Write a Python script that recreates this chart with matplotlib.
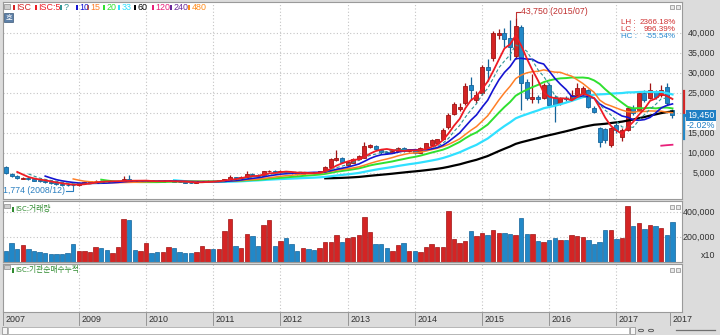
import numpy as np
import pandas as pd
import matplotlib
matplotlib.use("Agg")
import matplotlib.pyplot as plt
from matplotlib.patches import Rectangle, Circle
from matplotlib.lines import Line2D
from matplotlib.transforms import blended_transform_factory, ScaledTranslation

# ------------------------------------------------------------
# monthly candles, 2007/12 ~ 2017/11
# ------------------------------------------------------------
months = pd.period_range("2007-12", periods=120, freq="M")
prev_closes = [7000, 6500]  # 2007/10, 2007/11 (only used for the moving averages)

opens = [6500, 4800, 4200, 3500, 3800, 3400, 3200, 2900, 2700, 2500,
         2300, 2100, 2000, 1900, 2400, 2700, 2900, 3100, 2900, 2800,
         2950, 3000, 3400, 3100, 2900, 3000, 3100, 2900, 2800, 2950,
         3100, 2850, 2700, 2600, 2500, 2700, 2900, 3100, 2900, 3150,
         3500, 4000, 3700, 4100, 4800, 4500, 4300, 5400, 5600, 5200,
         5500, 5100, 4900, 4800, 5200, 5000, 4900, 5500, 6500, 8250,
         8800, 7000, 7600, 8500, 8800, 11600, 11800, 10800, 10300, 10000,
         10400, 11300, 10500, 10900, 10000, 11200, 12000, 12600, 13500, 16500,
         19800, 21000, 22500, 27000, 23250, 25000, 31500, 33750, 39500, 40000,
         38750, 34250, 41500, 27750, 23500, 24000, 23750, 27000, 24000, 22500,
         23800, 23500, 24500, 25000, 25750, 21250, 16250, 16000, 12000, 17000,
         14000, 15750, 21250, 20750, 25000, 23750, 25250, 24500, 26500, 20750]
highs = [6800, 5000, 4400, 3900, 3900, 3500, 3300, 3000, 2800, 2600,
         2400, 2300, 2200, 2500, 2800, 3000, 3300, 3200, 3000, 3000,
         3100, 4250, 4500, 3200, 3100, 3200, 3200, 3000, 3000, 3200,
         3150, 2900, 2800, 2700, 2800, 3000, 3200, 3200, 3200, 3600,
         4500, 4100, 4200, 5500, 5100, 4700, 5600, 5800, 5700, 5700,
         5600, 5300, 5100, 5300, 5300, 5200, 5600, 6800, 8700, 10750,
         9000, 8000, 8800, 9500, 12800, 12300, 12000, 11000, 10600, 10800,
         11500, 11500, 11000, 11000, 11400, 12600, 13400, 13600, 16200, 20000,
         22800, 22500, 27500, 29000, 25500, 32000, 33500, 40500, 41000, 41250,
         43250, 43750, 42000, 28500, 29750, 24500, 27500, 27500, 24500, 24000,
         24200, 25750, 27500, 26800, 26000, 21750, 16500, 16250, 16500, 17500,
         16250, 21500, 22000, 25500, 25750, 27500, 25750, 27000, 27500, 21000]
lows = [4700, 4000, 3500, 3400, 3200, 3000, 2800, 2600, 2300, 2100,
        1900, 1850, 1774, 1850, 2300, 2600, 2800, 2800, 2700, 2700,
        2850, 2950, 3000, 2800, 2800, 2900, 2800, 2700, 2750, 2900,
        2800, 2650, 2550, 2450, 2450, 2650, 2850, 2800, 2850, 3100,
        3400, 3500, 3600, 4000, 4300, 4100, 4200, 5200, 5000, 5100,
        5000, 4800, 4600, 4700, 4900, 4800, 4800, 5400, 6300, 8100,
        7600, 6800, 7400, 8300, 8700, 11300, 10800, 9800, 9700, 9900,
        10200, 10200, 10300, 9800, 9900, 11000, 11800, 12400, 13300, 16000,
        19500, 20500, 22000, 23250, 22500, 24500, 28000, 33000, 38500, 36500,
        33250, 33500, 20750, 23250, 22500, 22500, 23500, 21500, 17800, 22000,
        23000, 23250, 24000, 24500, 21250, 20000, 11600, 12500, 11600, 15000,
        13000, 15500, 19500, 20500, 22750, 23500, 23500, 24000, 22000, 18750]
closes = [4900, 4200, 3700, 3800, 3400, 3100, 2900, 2700, 2400, 2200,
          2000, 1950, 1900, 2400, 2700, 2900, 3100, 2900, 2800, 2950,
          3000, 3400, 3100, 2900, 3000, 3100, 2900, 2800, 2950, 3100,
          2850, 2700, 2600, 2500, 2700, 2900, 3100, 2900, 3150, 3500,
          4000, 3700, 4100, 4800, 4500, 4300, 5400, 5600, 5200, 5500,
          5100, 4900, 4800, 5200, 5000, 4900, 5500, 6500, 8500, 8800,
          7800, 7800, 8500, 9200, 11700, 12000, 11000, 10300, 10000, 10500,
          11300, 10500, 10900, 10000, 11200, 12400, 13200, 13500, 15800, 19500,
          22200, 21600, 26750, 25750, 24500, 31500, 30750, 40000, 40000, 38500,
          36500, 41750, 27500, 23750, 24000, 23500, 27000, 22000, 22000, 23700,
          23500, 24500, 26250, 26250, 21500, 20250, 12750, 13250, 16250, 15750,
          15750, 21250, 20000, 25000, 23250, 25750, 24000, 25750, 22500, 19450]

# volume, shown in units of x10
volumes = [92, 156, 103, 138, 101, 90, 80, 76, 67, 67,
           67, 71, 145, 90, 92, 80, 122, 115, 97, 76,
           122, 347, 333, 97, 90, 156, 76, 78, 83, 122,
           115, 80, 76, 69, 83, 131, 101, 103, 101, 248,
           347, 126, 115, 225, 205, 131, 294, 333, 126, 172,
           189, 145, 90, 115, 101, 94, 115, 163, 163, 214,
           159, 189, 200, 218, 361, 239, 145, 145, 115, 90,
           138, 156, 90, 90, 83, 122, 145, 122, 122, 405,
           186, 154, 168, 246, 205, 230, 214, 260, 235, 235,
           221, 214, 356, 225, 225, 172, 159, 177, 193, 177,
           177, 214, 205, 200, 177, 143, 163, 253, 253, 182,
           189, 446, 285, 310, 262, 297, 285, 276, 218, 320]
volumes = [v * 1000 for v in volumes]

# moving averages: (period, legend label, colour, width, style)
ma_styles = [
    (5, "ISC:5", "#ee1c24", 1.3, "-"),
    (7, "?", "#2f9595", 0.8, (0, (3, 2))),
    (10, "10", "#1414d2", 1.2, "-"),
    (15, "15", "#ff7f27", 1.1, "-"),
    (20, "20", "#30e030", 1.4, "-"),
    (33, "33", "#30e0ff", 1.6, "-"),
    (60, "60", "#000000", 1.6, "-"),
    (120, "120", "#e8207a", 1.3, "-"),
    (240, "240", "#6a2a9a", 1.3, "-"),
    (480, "480", "#ff8c1a", 1.3, "-"),
]

price_ticks = [5000, 10000, 15000, 20000, 25000, 30000, 35000, 40000]
vol_ticks = [200000, 400000]
last_change = "-2.02%"
range_hi, range_lo = 25600, 13500  # current range bar on the price scale

RED, RED_EDGE = "#d42424", "#a01414"
BLUE, BLUE_EDGE = "#2188c8", "#14649a"
GRID = "#c4c4c4"
NARROW = ["Liberation Sans Narrow", "Liberation Sans", "DejaVu Sans"]
KOR = ["Noto Sans CJK KR", "DejaVu Sans"]

opens = np.array(opens, float)
highs = np.array(highs, float)
lows = np.array(lows, float)
closes = np.array(closes, float)
n = len(closes)
x = np.arange(n)
up = closes >= opens
fill = [RED if u else BLUE for u in up]
edge = [RED_EDGE if u else BLUE_EDGE for u in up]

W, H = 720, 335
fig = plt.figure(figsize=(W / 100, H / 100), dpi=100, facecolor="#dcdcdc")


def fx(px):
    return px / W


def fy(py):
    return 1 - py / H


def box(x0, y0, w, h, fc, ec="none", lw=0.5):
    # rectangle in pixel units (top-left corner)
    fig.patches.append(Rectangle((fx(x0), fy(y0 + h)), w / W, h / H, transform=fig.transFigure,
                                 facecolor=fc, edgecolor=ec, lw=lw))


def panel(top, bottom):
    a = fig.add_axes([fx(3), fy(bottom), fx(679), (bottom - top) / H])
    a.set_facecolor("white")
    for s in a.spines.values():
        s.set_color("#9a9a9a")
        s.set_linewidth(0.8)
    a.tick_params(left=False, bottom=False, labelleft=False, labelbottom=False)
    a.set_xlim(-0.54, 120.7)
    return a


ax = panel(2, 199)
axv = panel(201, 262)
axi = panel(264, 312)

# year grid (January bars)
jan = [i for i, m in enumerate(months) if m.month == 1 and m.year >= 2009]
for a in (ax, axv, axi):
    for i in jan:
        a.axvline(i, color=GRID, lw=0.8, ls=(0, (1, 2)), zorder=0)

# ---------------- price panel ----------------
ax.set_ylim(-1500, 47750)
for p in price_ticks:
    ax.axhline(p, color=GRID, lw=0.8, ls=(0, (1, 2)), zorder=0)

all_close = pd.Series(prev_closes + list(closes))
for period, label, col, lw, ls in reversed(ma_styles):
    ma = all_close.rolling(period).mean().iloc[len(prev_closes):].to_numpy()
    ax.plot(x, ma, color=col, lw=lw, ls=ls, zorder=3 if period > 7 else 4)

ax.vlines(x, lows, highs, colors=edge, lw=0.9, zorder=2)
ax.bar(x, np.maximum(np.abs(closes - opens), 80), bottom=np.minimum(opens, closes),
       width=0.72, color=fill, edgecolor=edge, linewidth=0.6, zorder=2)

# high / low markers
hi_i, lo_i = int(np.argmax(highs)), int(np.argmin(lows))
hi, lo, last = highs[hi_i], lows[lo_i], closes[-1]
ax.plot([hi_i, hi_i, hi_i + 0.8], [hi, hi + 1500, hi + 1500], color="#c03030", lw=0.8, zorder=5)
ax.text(hi_i + 0.9, hi + 1500, f"{hi:,.0f} ({months[hi_i].strftime('%Y/%m')})",
        color="#c03030", fontsize=6.3, family=NARROW, va="center", ha="left")
ax.plot([lo_i - 1.3, lo_i, lo_i], [lo - 1200, lo - 1200, lo], color="#2a7fc0", lw=0.8, zorder=5)
ax.text(lo_i - 1.5, lo - 1200, f"{lo:,.0f} ({months[lo_i].strftime('%Y/%m')})",
        color="#2a7fc0", fontsize=6.3, family=NARROW, va="center", ha="right")

# LH / LC / HC box
stats = [("LH", (hi - lo) / lo * 100, "#d03030"),
         ("LC", (last - lo) / lo * 100, "#d03030"),
         ("HC", (last - hi) / hi * 100, "#2a8ad0")]
for k, (name, val, col) in enumerate(stats):
    fig.text(fx(621), fy(22 + 7.5 * k), f"{name} :", color=col, fontsize=5.8,
             family=NARROW, va="center", ha="left")
    fig.text(fx(676), fy(22 + 7.5 * k), f"{val:.2f}%", color=col, fontsize=5.8,
             family=NARROW, va="center", ha="right")

# price scale on the right (the label under the last-price tag stays hidden)
tr = blended_transform_factory(fig.transFigure, ax.transData)
for p in price_ticks:
    if abs(p - last) < 3000:
        continue
    ax.text(fx(715), p, f"{p:,}", transform=tr, fontsize=6.4, family=NARROW,
            color="#303030", ha="right", va="center", clip_on=False)
ax.plot([fx(683.5), fx(683.5)], [range_hi, last], transform=tr, color=RED, lw=1.6, clip_on=False)
ax.plot([fx(683.5), fx(683.5)], [last, range_lo], transform=tr, color=BLUE, lw=1.6, clip_on=False)
ax.add_patch(Rectangle((fx(686), last - 1350), fx(30), 2700, transform=tr,
                       facecolor="#1f7fc4", edgecolor="none", clip_on=False, zorder=6))
ax.text(fx(715), last, f"{last:,.0f}", transform=tr, fontsize=6.4, family=NARROW,
        color="white", ha="right", va="center", clip_on=False, zorder=7)
ax.add_patch(Rectangle((fx(686), last - 3650), fx(30), 2300, transform=tr,
                       facecolor="white", edgecolor="none", clip_on=False, zorder=6))
ax.text(fx(715), last - 2500, last_change, transform=tr, fontsize=6.4, family=NARROW,
        color="#1f7fc4", ha="right", va="center", clip_on=False, zorder=7)
ax.plot([fx(685.5)], [last], transform=tr, marker="<", ms=3.5, color="#1f7fc4",
        clip_on=False, zorder=7)

# legend row
box(4, 4, 6, 5, "#cfcfcf", "#8a8a8a")
box(4, 13, 9, 9, "#5d80a8", "#3b5878")
fig.text(fx(8.5), fy(17.5), "호", family=KOR, fontsize=5.2, color="white",
         ha="center", va="center")
legend_items = [("ISC", RED)] + [(lab, col) for _, lab, col, _, _ in ma_styles]
legend_x = [13, 35, 60, 76, 87, 103, 118, 134, 152, 170, 188]
for (lab, col), lx in zip(legend_items, legend_x):
    box(lx, 5, 2, 5, col)
    fig.text(fx(lx + 3.5), fy(7.5), lab, color=col, fontsize=6.4, family=NARROW,
             ha="left", va="center")

# ---------------- volume panel ----------------
axv.set_ylim(0, 488000)
for v in vol_ticks:
    axv.axhline(v, color=GRID, lw=0.8, ls=(0, (1, 2)), zorder=0)
axv.bar(x, volumes, width=0.78, color=fill, edgecolor=edge, linewidth=0.5, zorder=2)
trv = blended_transform_factory(fig.transFigure, axv.transData)
for v in vol_ticks:
    axv.text(fx(715), v, f"{v:,}", transform=trv, fontsize=6.4, family=NARROW,
             color="#303030", ha="right", va="center", clip_on=False)
fig.text(fx(715), fy(256), "x10", fontsize=6.4, family=NARROW, color="#303030",
         ha="right", va="center")

# panel titles
for ty, title in [(209, "ISC:거래량"), (270, "ISC:기관순매수누적")]:
    box(4, ty - 5, 6, 4, "#cfcfcf", "#8a8a8a")
    box(12, ty - 2.5, 2, 5, "#2e8b2e")
    fig.text(fx(15.5), fy(ty), title, color="#2e8b2e", fontsize=5.6, family=KOR,
             ha="left", va="center")

# small window buttons at the top-right of each panel
for by in (5, 205, 268):
    for bx in (670, 676):
        box(bx, by, 4, 4, "#e8e8e8", "#8a8a8a")

# ---------------- date axis ----------------
trd = blended_transform_factory(ax.transData, fig.transFigure)
trd_lab = trd + ScaledTranslation(2.5 / 100, 0, fig.dpi_scale_trans)
date_ticks = [-0.5] + jan + [n - 1.5]
date_labels = [str(months[0].year)] + [str(months[i].year) for i in jan] + [str(months[-1].year)]
for t, lab in zip(date_ticks, date_labels):
    fig.lines.append(Line2D([t, t], [fy(313), fy(325)], transform=trd, color="#8a8a8a", lw=0.6))
    fig.text(t, fy(319.5), lab, transform=trd_lab, fontsize=6.4, family=NARROW,
             color="#303030", ha="left", va="center")

# scroll bar along the bottom edge
box(2, 327, 5, 7, "#f4f4f4", "#8a8a8a")
box(8, 327, 621, 7, "white", "#a0a0a0")
box(630, 327, 5, 7, "#f4f4f4", "#8a8a8a")
for cx in (641, 651):
    fig.patches.append(Circle((fx(cx), fy(330.5)), 2.6 / W, transform=fig.transFigure,
                              facecolor="none", edgecolor="#505050", lw=0.6))
fig.lines.append(Line2D([fx(676), fx(715)], [fy(330), fy(330)], transform=fig.transFigure,
                        color="#707070", lw=0.9))

fig.savefig("out.png", dpi=100, facecolor=fig.get_facecolor())
